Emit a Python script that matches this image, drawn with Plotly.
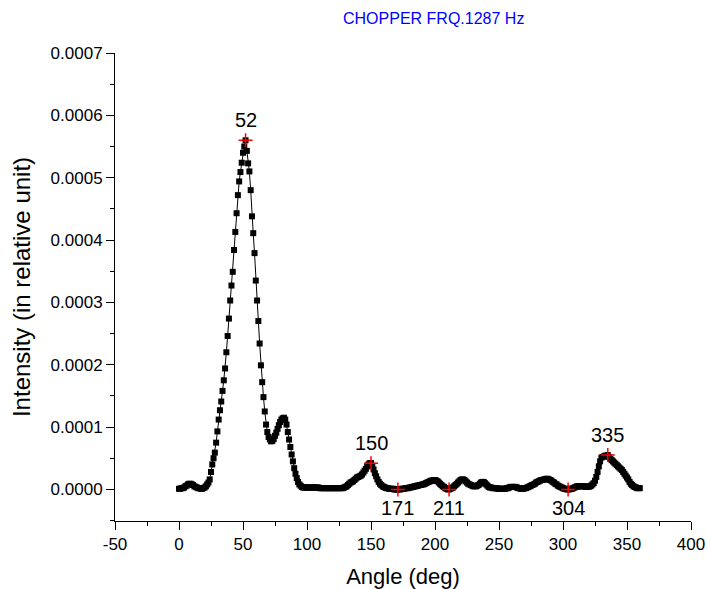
import plotly.graph_objects as go

# Angle grid (deg), 1-degree sampling from 0 to 360
angles = list(range(0, 361))

# Intensity, in units of 1e-6 (relative unit)
intensity_e6 = [
    1, 1, 2, 2, 3, 5, 6, 8, 9, 9,            # 0-9
    8, 7, 5, 4, 3, 2, 2, 1, 1, 2,            # 10-19
    3, 5, 8, 11, 16, 28, 40, 50, 59, 75,     # 20-29
    93, 112, 127, 141, 158, 175, 194, 220, 246, 274,   # 30-39
    303, 327, 349, 384, 413, 443, 472, 494, 509, 524,  # 40-49
    540, 550, 560, 543, 523, 510, 480, 438, 411, 379,  # 50-59
    335, 303, 270, 234, 199, 172, 148, 125, 104, 92,   # 60-69
    84, 80, 77, 78, 81, 86, 91, 97, 103, 108,          # 70-79
    112, 114, 115, 112, 104, 92, 80, 68, 56, 45,       # 80-89
    34, 25, 18, 12, 8, 6, 4, 3, 3, 3,        # 90-99
    3, 3, 3, 3, 3, 3, 3, 3, 3, 3,            # 100-109
    2, 2, 2, 2, 2, 2, 2, 2, 2, 2,            # 110-119
    2, 2, 2, 2, 2, 2, 2, 2, 2, 3,            # 120-129
    4, 5, 7, 9, 11, 12, 13, 15, 17, 19,      # 130-139
    20, 21, 22, 24, 27, 30, 33, 37, 40, 42,  # 140-149
    42, 38, 32, 26, 21, 16, 12, 9, 7, 5,     # 150-159
    4, 3, 2, 2, 1, 1, 1, 1, 0, 0,            # 160-169
    0, 0, 0, 0, 1, 1, 1, 2, 2, 2,            # 170-179
    3, 3, 4, 4, 5, 5, 6, 6, 7, 7,            # 180-189
    8, 8, 9, 10, 11, 12, 13, 14, 14, 15,     # 190-199
    15, 14, 13, 11, 9, 7, 5, 4, 2, 1,        # 200-209
    0, 0, 1, 2, 3, 5, 7, 9, 11, 13,          # 210-219
    15, 16, 16, 15, 13, 11, 9, 8, 7, 6,      # 220-229
    5, 5, 5, 6, 7, 9, 11, 12, 12, 10,        # 230-239
    8, 6, 4, 3, 3, 2, 2, 2, 2, 1,            # 240-249
    1, 1, 1, 1, 1, 1, 2, 2, 3, 4,            # 250-259
    4, 4, 4, 4, 3, 2, 2, 1, 1, 1,            # 260-269
    2, 2, 3, 4, 5, 6, 7, 8, 9, 11,           # 270-279
    12, 13, 14, 15, 15, 16, 16, 17, 17, 16,  # 280-289
    15, 14, 12, 11, 9, 8, 6, 5, 4, 3,        # 290-299
    2, 1, 1, 0, 0, 0, 1, 1, 2, 3,            # 300-309
    4, 5, 5, 5, 5, 5, 5, 5, 4, 4,            # 310-319
    4, 5, 6, 8, 10, 14, 20, 28, 37, 45,      # 320-329
    51, 52, 53, 54, 54, 55, 52, 49, 47, 45,  # 330-339
    43, 41, 39, 37, 35, 33, 31, 28, 25, 22,  # 340-349
    19, 16, 12, 9, 7, 5, 4, 3, 2, 2,        # 350-359
    2,                                       # 360
]
intensity = [v * 1e-6 for v in intensity_e6]

# Labelled extrema (angles in deg)
peak_angles = [52, 150, 335]
valley_angles = [171, 211, 304]

# Axis ticks
x_ticks = [-50, 0, 50, 100, 150, 200, 250, 300, 350, 400]
y_ticks = [0.0000, 0.0001, 0.0002, 0.0003, 0.0004, 0.0005, 0.0006, 0.0007]

title_text = "CHOPPER FRQ.1287 Hz"
x_title = "Angle (deg)"
y_title = "Intensity (in relative unit)"

FONT = "Arial, 'Liberation Sans', sans-serif"

fig = go.Figure()
fig.add_trace(go.Scatter(
    x=angles, y=intensity, mode="lines+markers",
    line=dict(color="black", width=1),
    marker=dict(symbol="square", size=6, color="black"),
    showlegend=False, hoverinfo="x+y",
))

mark_angles = peak_angles + valley_angles
mark_vals = [intensity[angles.index(a)] for a in mark_angles]
fig.add_trace(go.Scatter(
    x=mark_angles, y=mark_vals, mode="markers",
    marker=dict(symbol="cross-thin", size=10, line=dict(color="red", width=1.5)),
    showlegend=False,
))

W, H = 707, 589
L, R, T, B = 115, 15.5, 52.5, 67.5

annotations = []
for a in peak_angles:
    annotations.append(dict(x=a, y=intensity[angles.index(a)], text=str(a),
                            showarrow=False, yshift=20,
                            font=dict(family=FONT, size=20, color="black")))
for a in valley_angles:
    annotations.append(dict(x=a, y=intensity[angles.index(a)], text=str(a),
                            showarrow=False, yshift=-19,
                            font=dict(family=FONT, size=20, color="black")))
annotations.append(dict(x=(434 - L) / (W - L - R), y=1 + (T - 18) / (H - T - B),
                        xref="paper", yref="paper",
                        text=title_text, showarrow=False,
                        xanchor="center", yanchor="middle",
                        font=dict(family=FONT, size=16, color="#0000ff")))

fig.update_layout(
    width=W, height=H,
    margin=dict(l=L, r=R, t=T, b=B, pad=0, autoexpand=False),
    paper_bgcolor="white", plot_bgcolor="white",
    font=dict(family=FONT, size=17, color="black"),
    annotations=annotations,
)
fig.update_xaxes(
    range=[-50, 400], tickvals=x_ticks, ticktext=[str(t) for t in x_ticks],
    showline=True, linecolor="black", linewidth=1, mirror=False,
    ticks="outside", ticklen=8, tickwidth=1, tickcolor="black",
    minor=dict(ticks="outside", ticklen=4, dtick=25, tick0=0, tickcolor="black"),
    showgrid=False, zeroline=False, automargin=False,
    tickfont=dict(family=FONT, size=17),
    title=dict(text=x_title, font=dict(family=FONT, size=22), standoff=16),
)
fig.update_yaxes(
    range=[-0.0000507, 0.0007], tickvals=y_ticks,
    ticktext=[f"{t:.4f}" for t in y_ticks],
    showline=True, linecolor="black", linewidth=1, mirror=False,
    ticks="outside", ticklen=8, tickwidth=1, tickcolor="black",
    minor=dict(ticks="outside", ticklen=4, dtick=0.00005, tick0=0, tickcolor="black"),
    showgrid=False, zeroline=False, automargin=False,
    tickfont=dict(family=FONT, size=17),
    title=dict(text=y_title, font=dict(family=FONT, size=24), standoff=13),
)

fig.write_html("out.html")
